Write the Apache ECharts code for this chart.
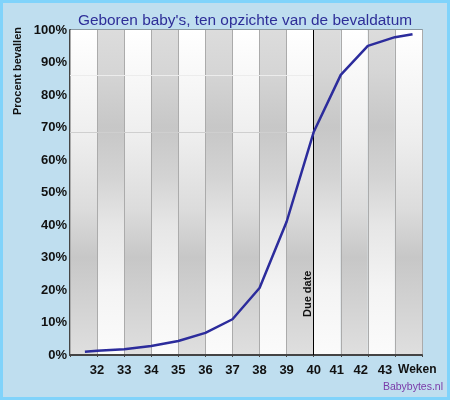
<!DOCTYPE html>
<html>
<head>
<meta charset="utf-8">
<script src="https://cdn.jsdelivr.net/npm/echarts@6/dist/echarts.min.js"></script>
<style>
  body { margin: 0; }
  #main { width: 450px; height: 400px; background: #bfdeef; box-shadow: inset 0 0 0 3px #80d3fb; }
</style>
</head>
<body>
<div id="main"></div>
<script>
// 数据: 周数 / 累计百分比
var weeks = [31.55, 32, 33, 34, 35, 36, 37, 38, 39, 40, 41, 42, 43, 43.65];
var percent = [1.0, 1.3, 1.8, 2.8, 4.3, 6.8, 11, 20.6, 41, 68.6, 86.2, 95.1, 97.8, 98.7];

// 背景条纹的边界 (周)
var bandEdges = [31, 32, 33, 34, 35, 36, 37, 38, 39, 40, 41, 42, 43, 44];
var dueWeek = 40;
// 浅色横线
var refLines = [86.2, 68.6];
var xName = 'Weken';

var chart = echarts.init(document.getElementById('main'));

function grad(stops) {
  return new echarts.graphic.LinearGradient(0, 0, 0, 1, stops.map(function (s) {
    return { offset: s[0], color: s[1] };
  }));
}
// 白色开头 / 灰色开头
var gradA = grad([[0, '#ffffff'], [0.14, '#f8f8f8'], [0.33, '#eeeeee'], [0.55, '#dcdcdc'], [0.7, '#c7c7c7'], [0.85, '#d3d3d3'], [1, '#dfdfdf']]);
var gradB = grad([[0, '#dcdcdc'], [0.12, '#d6d6d6'], [0.3, '#c7c7c7'], [0.45, '#d3d3d3'], [0.6, '#e6e6e6'], [0.8, '#f4f4f4'], [1, '#fbfbfb']]);

var bands = [];
for (var i = 0; i < bandEdges.length - 1; i++) {
  bands.push([
    { xAxis: bandEdges[i], itemStyle: { color: i % 2 === 0 ? gradA : gradB } },
    { xAxis: bandEdges[i + 1] }
  ]);
}

var lineData = weeks.map(function (w, i) { return [w, percent[i]]; });

var labelFont = { color: '#111', fontFamily: 'Arial', fontWeight: 'bold', fontSize: 13 };
// 右边几个标签往左挪一点, 给 Weken 腾位置
var shiftStyle = { color: '#111', fontFamily: 'Arial', fontWeight: 'bold', fontSize: 13 };

var option = {
  animation: false,
  title: {
    text: "Geboren baby's, ten opzichte van de bevaldatum",
    left: 240,
    top: 8,
    textAlign: 'center',
    textStyle: { color: '#2e2e98', fontFamily: 'Arial', fontWeight: 'normal', fontSize: 15.4 }
  },
  grid: {
    left: 70, right: 28, top: 30, bottom: 45,
    show: true, borderColor: '#555', borderWidth: 1
  },
  xAxis: {
    type: 'value',
    min: 31, max: 44, interval: 1,
    z: 3,
    name: xName,
    nameLocation: 'end',
    nameGap: -7,
    nameTextStyle: {
      color: '#111', fontFamily: 'Arial', fontWeight: 'bold', fontSize: 12,
      align: 'center', verticalAlign: 'top', padding: [9, 0, 0, 0]
    },
    axisLine: { lineStyle: { color: '#444', width: 2 } },
    axisTick: { show: true, length: 2, lineStyle: { color: '#444' } },
    splitLine: { show: true, lineStyle: { color: '#ababab', width: 1 } },
    axisLabel: Object.assign({
      margin: 9,
      formatter: function (v) {
        if (v === bandEdges[0] || v === bandEdges[bandEdges.length - 1]) return '';
        if (v === 41) return '{a|' + v + '}';
        if (v === 42) return '{b|' + v + '}';
        if (v === 43) return '{c|' + v + '}';
        return v;
      },
      rich: {
        a: Object.assign({ padding: [0, 8, 0, 0] }, shiftStyle),
        b: Object.assign({ padding: [0, 14, 0, 0] }, shiftStyle),
        c: Object.assign({ padding: [0, 20, 0, 0] }, shiftStyle)
      }
    }, labelFont)
  },
  yAxis: [{
    type: 'value',
    min: 0, max: 100, interval: 10,
    axisLine: { show: true, lineStyle: { color: '#444', width: 2 } },
    axisTick: { show: true, inside: true, length: 5, lineStyle: { color: '#333' } },
    splitLine: { show: false },
    axisLabel: Object.assign({ margin: 3, formatter: '{value}%' }, labelFont)
  }, {
    type: 'value',
    position: 'right',
    min: 0, max: 100, interval: 10,
    axisLine: { show: true, lineStyle: { color: '#555', width: 1 } },
    axisTick: { show: true, inside: true, length: 5, lineStyle: { color: '#333' } },
    splitLine: { show: false },
    axisLabel: { show: false }
  }],
  graphic: [{
    type: 'text',
    x: 18, y: 71,
    rotation: Math.PI / 2,
    style: {
      text: 'Procent bevallen',
      fill: '#111', font: 'bold 11px Arial',
      textAlign: 'center', textVerticalAlign: 'middle'
    }
  }, {
    type: 'text',
    right: 7, top: 382,
    style: { text: 'Babybytes.nl', fill: '#7a3aa8', font: '10.5px Arial' }
  }],
  series: [{
    // 背景条纹
    type: 'line',
    z: 1,
    data: [],
    silent: true,
    markArea: { silent: true, data: bands }
  }, {
    type: 'line',
    z: 5,
    data: lineData,
    symbol: 'none',
    lineStyle: { color: '#2c2c9c', width: 2.5 },
    markLine: {
      silent: true,
      symbol: 'none',
      data: [
        [{ coord: [bandEdges[0], refLines[0]], lineStyle: { color: '#ececec', width: 1, type: 'solid' } }, { coord: [dueWeek, refLines[0]] }],
        [{ coord: [bandEdges[0], refLines[1]], lineStyle: { color: '#cfcfcf', width: 1, type: 'solid' } }, { coord: [dueWeek, refLines[1]] }],
        {
          xAxis: dueWeek,
          lineStyle: { color: '#000', width: 1, type: 'solid' },
          label: {
            show: true,
            formatter: 'Due date',
            position: 'insideStartTop',
            distance: [38, 0],
            color: '#111', fontFamily: 'Arial', fontWeight: 'bold', fontSize: 11
          }
        }
      ],
      label: { show: false }
    }
  }]
};

chart.setOption(option);
</script>
</body>
</html>
